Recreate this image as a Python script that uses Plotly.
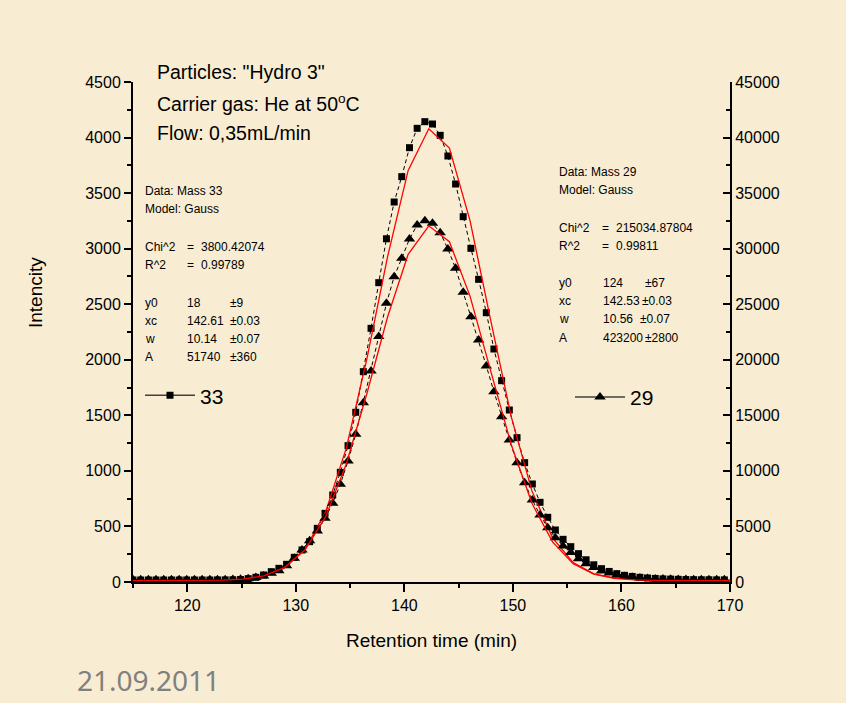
import plotly.graph_objects as go

# ---------------- data ----------------
time_min = [115.00, 115.71, 116.42, 117.12, 117.83, 118.54, 119.25, 119.95, 120.66, 121.37,
            122.08, 122.78, 123.49, 124.20, 124.91, 125.61, 126.32, 127.03, 127.74, 128.44,
            129.15, 129.86, 130.57, 131.27, 131.98, 132.69, 133.40, 134.10, 134.81, 135.52,
            136.22, 136.93, 137.64, 138.35, 139.06, 139.76, 140.47, 141.18, 141.89, 142.59,
            143.30, 144.01, 144.72, 145.42, 146.13, 146.84, 147.55, 148.25, 148.96, 149.67,
            150.38, 151.08, 151.79, 152.50, 153.21, 153.91, 154.62, 155.33, 156.04, 156.74,
            157.45, 158.16, 158.87, 159.57, 160.28, 160.99, 161.70, 162.40, 163.11, 163.82,
            164.53, 165.23, 165.94, 166.65, 167.36, 168.06, 168.77, 169.48]

mass33 = [18, 18, 18, 18, 18, 18, 18, 18, 18, 18,
          18, 19, 19, 20, 22, 30, 42, 63, 93, 123,
          159, 222, 288, 363, 483, 618, 783, 987, 1227, 1527,
          1893, 2283, 2694, 3089, 3420, 3648, 3909, 4083, 4143, 4122,
          4020, 3834, 3582, 3288, 3003, 2724, 2424, 2097, 1812, 1548,
          1299, 1074, 882, 717, 582, 468, 384, 318, 255, 200,
          155, 120, 95, 75, 60, 50, 42, 36, 32, 28,
          26, 24, 22, 21, 20, 20, 19, 19]

mass29 = [200, 200, 200, 200, 200, 200, 200, 200, 200, 200,
          200, 200, 210, 220, 250, 300, 400, 550, 780, 1020,
          1470, 2130, 2880, 3720, 4590, 5730, 7080, 8790, 10890, 13290,
          16140, 18990, 22100, 25080, 27480, 29130, 30870, 32130, 32520, 32280,
          31440, 29970, 28230, 26070, 23880, 21780, 19440, 17130, 14880, 12780,
          10740, 8940, 7380, 6030, 4890, 3990, 3240, 2650, 2100, 1650,
          1300, 1000, 800, 620, 500, 420, 360, 320, 280, 260,
          240, 230, 220, 210, 210, 200, 200, 200]

fit_time = [113.75, 115.65, 117.55, 119.45, 121.35, 123.25, 125.15, 127.05, 128.95, 130.85,
            132.75, 134.65, 136.55, 138.45, 140.35, 142.25, 144.15, 146.05, 147.95, 149.85,
            151.75, 153.65, 155.55, 157.45, 159.35, 161.25, 163.15, 165.05, 166.95, 168.85,
            170.75]

fit33 = [18, 18, 18, 18, 19, 21, 29, 55, 126, 294,
         632, 1205, 2011, 2926, 3704, 4079, 3905, 3252, 2356, 1486,
         820, 398, 175, 74, 36, 23, 19, 18, 18, 18,
         18]

fit29 = [124, 124, 124, 126, 134, 165, 266, 559, 1296, 2893,
         5876, 10625, 16963, 23847, 29488, 32055, 30629, 25727, 19003, 12358,
         7085, 3606, 1653, 714, 324, 183, 140, 128, 125, 124,
         124]

# fit report texts
box33_head = ["Data: Mass 33", "Model: Gauss"]
box33_stats = [("Chi^2", "3800.42074"), ("R^2", "0.99789")]
box33_params = ["y0", "xc", "w", "A"]
box33_values = ["18", "142.61", "10.14", "51740"]
box33_errors = ["\u00b19", "\u00b10.03", "\u00b10.07", "\u00b1360"]

box29_head = ["Data: Mass 29", "Model: Gauss"]
box29_stats = [("Chi^2", "215034.87804"), ("R^2", "0.99811")]
box29_params = ["y0", "xc", "w", "A"]
box29_values = ["124", "142.53", "10.56", "423200"]
box29_errors = ["\u00b167", "\u00b10.03", "\u00b10.07", "\u00b12800"]

info_lines = ['Particles: "Hydro 3"', "Carrier gas: He at 50<sup>o</sup>C", "Flow: 0,35mL/min"]
date_text = "21.09.2011"

# ---------------- layout helpers ----------------
W, H = 846, 703
L, R, T, B = 133, 730, 82, 582
FONT = "Liberation Sans, Arial, sans-serif"
BG = "#F8EDD2"


def px(x):
    return (x - L) / (R - L)


def py(y):
    return (B - y) / (B - T)


fig = go.Figure()

# data
fig.add_trace(go.Scatter(x=time_min, y=mass33, mode="lines+markers", name="33", showlegend=False,
                         line=dict(color="black", width=1, dash="4px,3px"),
                         marker=dict(symbol="square", size=7, color="black")))
fig.add_trace(go.Scatter(x=time_min, y=mass29, mode="lines+markers", name="29", showlegend=False,
                         yaxis="y2",
                         line=dict(color="black", width=1, dash="4px,3px"),
                         marker=dict(symbol="triangle-up", size=10, color="black")))
# fits
fig.add_trace(go.Scatter(x=fit_time, y=fit33, mode="lines", showlegend=False,
                         line=dict(color="#FF0000", width=1.3)))
fig.add_trace(go.Scatter(x=fit_time, y=fit29, mode="lines", showlegend=False, yaxis="y2",
                         line=dict(color="#FF0000", width=1.3)))
# legend entries
fig.add_trace(go.Scatter(x=[None], y=[None], mode="lines+markers", name="33", legend="legend",
                         line=dict(color="#404040", width=1.5),
                         marker=dict(symbol="square", size=7, color="black")))
fig.add_trace(go.Scatter(x=[None], y=[None], mode="lines+markers", name="29", legend="legend2",
                         line=dict(color="#404040", width=1.5),
                         marker=dict(symbol="triangle-up", size=10, color="black")))

ann = []
small = dict(family=FONT, size=12, color="black")


def add_text(x, y, text, font, xanchor="left", angle=0):
    ann.append(dict(x=px(x), y=py(y), xref="paper", yref="paper", text=text, showarrow=False,
                    xanchor=xanchor, yanchor="middle", font=font, borderpad=0, textangle=angle))


# info text
for i, t in enumerate(info_lines):
    add_text(156, 72 + 30.5 * i, t, dict(family=FONT, size=19.5, color="black"))

# y axis title (placed off-centre as in the original)
add_text(35, 293, "Intencity", dict(family=FONT, size=19, color="black"), xanchor="center", angle=-90)

# box 33
rows33 = [191.3, 209.3, 246.7, 265.0, 302.7, 320.7, 339.3, 357.3]
add_text(144, rows33[0], box33_head[0], small)
add_text(144, rows33[1], box33_head[1], small)
for k, (lab, val) in enumerate(box33_stats):
    add_text(144, rows33[2 + k], lab, small)
    add_text(186, rows33[2 + k], "=", small)
    add_text(199.5, rows33[2 + k], val, small)
for k in range(4):
    add_text(144, rows33[4 + k], box33_params[k], small)
    add_text(186, rows33[4 + k], box33_values[k], small)
    add_text(228.5, rows33[4 + k], box33_errors[k], small)

# box 29
rows29 = [171.7, 190.0, 227.7, 245.7, 282.7, 301.0, 319.3, 337.6]
err29_x = [643.5, 641, 639, 643.5]
add_text(558, rows29[0], box29_head[0], small)
add_text(558, rows29[1], box29_head[1], small)
for k, (lab, val) in enumerate(box29_stats):
    add_text(558, rows29[2 + k], lab, small)
    add_text(601, rows29[2 + k], "=", small)
    add_text(614.5, rows29[2 + k], val, small)
for k in range(4):
    add_text(558, rows29[4 + k], box29_params[k], small)
    add_text(601.5, rows29[4 + k], box29_values[k], small)
    add_text(err29_x[k], rows29[4 + k], box29_errors[k], small)

# date
add_text(76, 680, date_text, dict(family="Noto Sans, Open Sans, sans-serif", size=28, color="#808080"))

axis_common = dict(showline=True, linecolor="black", linewidth=2, showgrid=False, zeroline=False,
                   tickcolor="black", tickwidth=1.5, tickfont=dict(family=FONT, size=16, color="black"))

fig.update_layout(
    width=W, height=H, autosize=False,
    margin=dict(l=L, r=W - R, t=T, b=H - B, pad=0),
    paper_bgcolor=BG, plot_bgcolor=BG,
    font=dict(family=FONT, color="black"),
    xaxis=dict(range=[115, 170], tick0=0, dtick=10, ticks="outside", ticklen=8,
               minor=dict(dtick=5, ticklen=4, ticks="outside", tickcolor="black", tickwidth=1.5, showgrid=False),
               title=dict(text="Retention time (min)", font=dict(family=FONT, size=19, color="black"), standoff=20),
               **axis_common),
    yaxis=dict(range=[0, 4500], dtick=500, ticks="outside", ticklen=7, tickformat="d",
               minor=dict(dtick=250, ticklen=4, ticks="outside", tickcolor="black", tickwidth=1.5, showgrid=False),
               **axis_common),
    yaxis2=dict(range=[0, 45000], dtick=5000, ticks="inside", ticklen=7, overlaying="y", side="right",
                tickformat="d",
                minor=dict(dtick=2500, ticklen=4, ticks="inside", tickcolor="black", tickwidth=1.5, showgrid=False),
                **axis_common),
    legend=dict(x=px(140), y=py(395.7), xanchor="left", yanchor="middle", bgcolor="rgba(0,0,0,0)",
                borderwidth=0, itemwidth=50, font=dict(family=FONT, size=21, color="black")),
    legend2=dict(x=px(570), y=py(397.3), xanchor="left", yanchor="middle", bgcolor="rgba(0,0,0,0)",
                 borderwidth=0, itemwidth=50, font=dict(family=FONT, size=21, color="black")),
    annotations=ann,
)

fig.write_html("out.html", config={"displayModeBar": False},
               post_script="document.body.style.margin='0px';document.body.style.overflow='hidden';")
